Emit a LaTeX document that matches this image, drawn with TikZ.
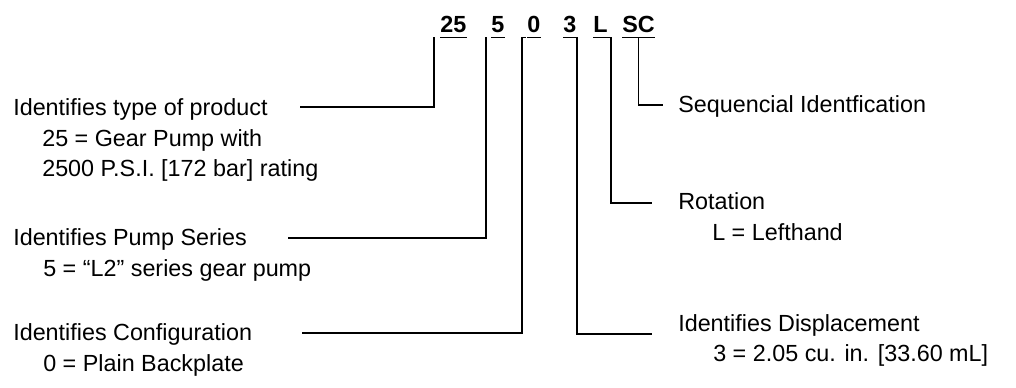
\documentclass[tikz,border=0pt]{standalone}
\usepackage{fontspec}
\setmainfont{Liberation Sans}
\begin{document}
\begin{tikzpicture}[x=0.025cm,y=-0.025cm,
    lbl/.style={anchor=base west,inner sep=0pt,font=\fontsize{16.6}{19}\selectfont},
    code/.style={anchor=base west,inner xsep=0pt,inner ysep=3pt,text depth=0pt,font=\fontsize{16.6}{19}\selectfont\bfseries},
    lead/.style={line width=1.4pt}]
    \useasboundingbox (0,0) rectangle (1016,387);

    % model code
    \node[code] (c25) at (440,33) {25};
    \node[code] (c5) at (491,33) {5};
    \node[code] (c0) at (527,33) {0};
    \node[code] (c3) at (563,33) {3};
    \node[code] (cL) at (593,33) {L};
    \node[code] (cSC) at (622,33) {SC};
    \foreach \c in {c25,c5,c0,cSC}
        \draw[lead] (\c.south west) -- (\c.south east);

    % left side
    \node[lbl] (prod) at (13,115) {Identifies type of product};
    \node[lbl] (gp1) at (42,146) {25 = Gear Pump with};
    \node[lbl] (gp2) at (42,176) {2500 P.S.I. [172 bar] rating};
    \node[lbl] (ser) at (13,245) {Identifies Pump Series};
    \node[lbl] (serv) at (43,276) {5 = “L2” series gear pump};
    \node[lbl] (cfg) at (13,340) {Identifies Configuration};
    \node[lbl] (cfgv) at (43,371) {0 = Plain Backplate};

    % right side
    \node[lbl] (seq) at (678,112) {Sequencial Identfication};
    \node[lbl] (rot) at (678,209) {Rotation};
    \node[lbl] (lh) at (712,240) {L = Lefthand};
    \node[lbl] (disp) at (678,331) {Identifies Displacement};
    \node[lbl] (dval) at (713,361) {3 = 2.05 cu. in. [33.60 mL]};

    \coordinate (e25) at (300,107);
    \coordinate (e5) at (288,238);
    \coordinate (e0) at (302,333);
    \coordinate (e3) at (652,334);
    \coordinate (eL) at (652,203);
    \coordinate (eSC) at (663,105);

    \draw[lead] ([xshift=-4.3pt]c25.south west) |- (e25);
    \draw[lead] ([xshift=-3.6pt]c5.south west) |- (e5);
    \draw[lead] ([xshift=-0.8pt]c0.south west) -- ([xshift=-3.6pt]c0.south west) |- (e0);
    \draw[lead] (c3.south west) -- (c3.south east) |- (e3);
    \draw[lead] (cL.south west) -- ([xshift=2pt]cL.south east) |- (eL);
    \draw[lead] (cSC.south) |- (eSC);
\end{tikzpicture}
\end{document}
